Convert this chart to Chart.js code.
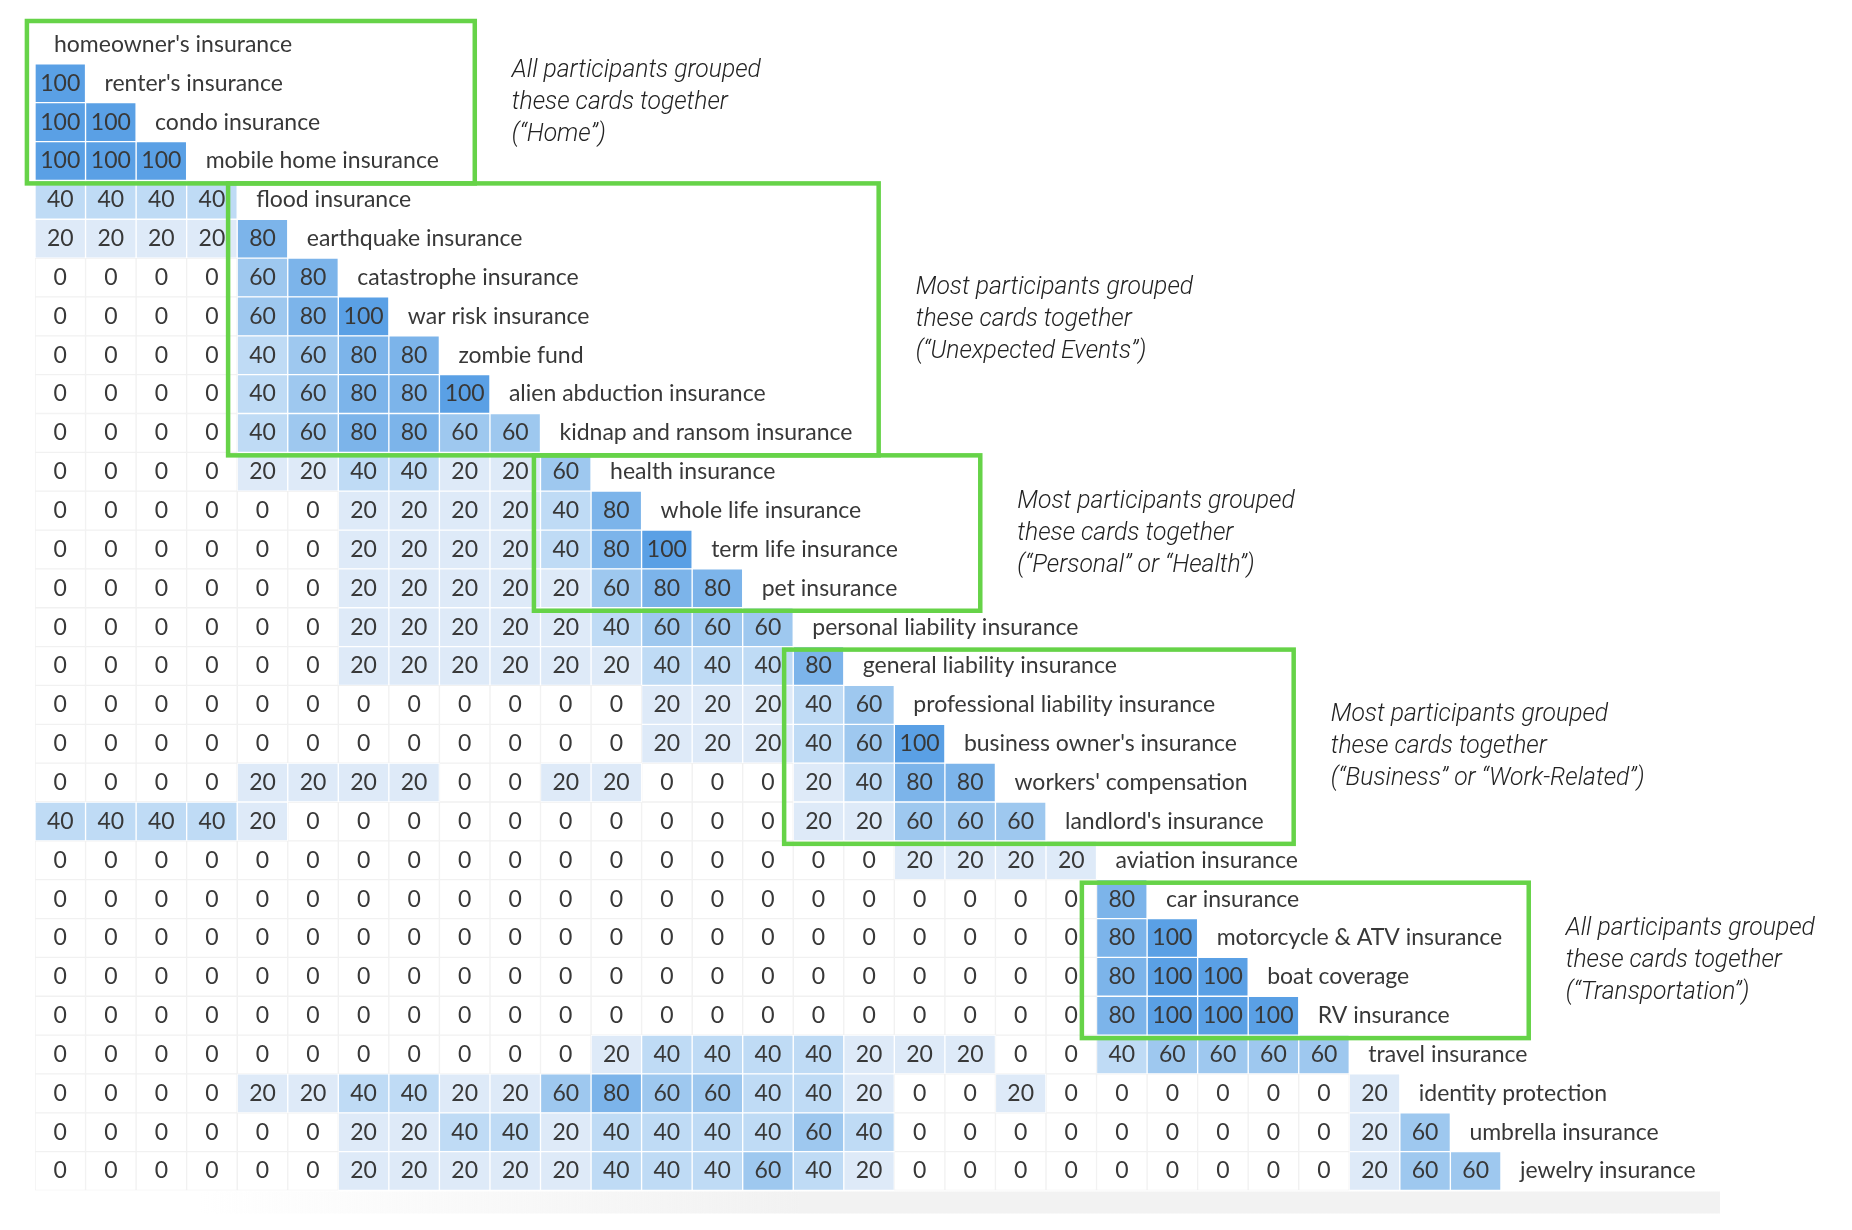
<!DOCTYPE html>
<html>
<head>
<meta charset="utf-8">
<script src="https://cdn.jsdelivr.net/npm/chart.js@4.4.0/dist/chart.umd.min.js"></script>
<style>
    html, body { margin: 0; padding: 0; background: #fff; }
    #wrap { width: 1852px; height: 1230px; }
</style>
</head>
<body>
<div id="wrap"><canvas id="matrixChart" width="1852" height="1230"></canvas></div>
<script>
// cards in the order of the similarity matrix
const cards = [
    "homeowner's insurance", "renter's insurance", "condo insurance", "mobile home insurance",
    "flood insurance", "earthquake insurance", "catastrophe insurance", "war risk insurance",
    "zombie fund", "alien abduction insurance", "kidnap and ransom insurance", "health insurance",
    "whole life insurance", "term life insurance", "pet insurance", "personal liability insurance",
    "general liability insurance", "professional liability insurance", "business owner's insurance",
    "workers' compensation", "landlord's insurance", "aviation insurance", "car insurance",
    "motorcycle & ATV insurance", "boat coverage", "RV insurance", "travel insurance",
    "identity protection", "umbrella insurance", "jewelry insurance"
];

// % of participants who put card i and card j in the same group (row i, columns 0..i-1)
const similarity = [
    [],
    [100],
    [100, 100],
    [100, 100, 100],
    [40, 40, 40, 40],
    [20, 20, 20, 20, 80],
    [0, 0, 0, 0, 60, 80],
    [0, 0, 0, 0, 60, 80, 100],
    [0, 0, 0, 0, 40, 60, 80, 80],
    [0, 0, 0, 0, 40, 60, 80, 80, 100],
    [0, 0, 0, 0, 40, 60, 80, 80, 60, 60],
    [0, 0, 0, 0, 20, 20, 40, 40, 20, 20, 60],
    [0, 0, 0, 0, 0, 0, 20, 20, 20, 20, 40, 80],
    [0, 0, 0, 0, 0, 0, 20, 20, 20, 20, 40, 80, 100],
    [0, 0, 0, 0, 0, 0, 20, 20, 20, 20, 20, 60, 80, 80],
    [0, 0, 0, 0, 0, 0, 20, 20, 20, 20, 20, 40, 60, 60, 60],
    [0, 0, 0, 0, 0, 0, 20, 20, 20, 20, 20, 20, 40, 40, 40, 80],
    [0, 0, 0, 0, 0, 0, 0, 0, 0, 0, 0, 0, 20, 20, 20, 40, 60],
    [0, 0, 0, 0, 0, 0, 0, 0, 0, 0, 0, 0, 20, 20, 20, 40, 60, 100],
    [0, 0, 0, 0, 20, 20, 20, 20, 0, 0, 20, 20, 0, 0, 0, 20, 40, 80, 80],
    [40, 40, 40, 40, 20, 0, 0, 0, 0, 0, 0, 0, 0, 0, 0, 20, 20, 60, 60, 60],
    [0, 0, 0, 0, 0, 0, 0, 0, 0, 0, 0, 0, 0, 0, 0, 0, 0, 20, 20, 20, 20],
    [0, 0, 0, 0, 0, 0, 0, 0, 0, 0, 0, 0, 0, 0, 0, 0, 0, 0, 0, 0, 0, 80],
    [0, 0, 0, 0, 0, 0, 0, 0, 0, 0, 0, 0, 0, 0, 0, 0, 0, 0, 0, 0, 0, 80, 100],
    [0, 0, 0, 0, 0, 0, 0, 0, 0, 0, 0, 0, 0, 0, 0, 0, 0, 0, 0, 0, 0, 80, 100, 100],
    [0, 0, 0, 0, 0, 0, 0, 0, 0, 0, 0, 0, 0, 0, 0, 0, 0, 0, 0, 0, 0, 80, 100, 100, 100],
    [0, 0, 0, 0, 0, 0, 0, 0, 0, 0, 0, 20, 40, 40, 40, 40, 20, 20, 20, 0, 0, 40, 60, 60, 60, 60],
    [0, 0, 0, 0, 20, 20, 40, 40, 20, 20, 60, 80, 60, 60, 40, 40, 20, 0, 0, 20, 0, 0, 0, 0, 0, 0, 20],
    [0, 0, 0, 0, 0, 0, 20, 20, 40, 40, 20, 40, 40, 40, 40, 60, 40, 0, 0, 0, 0, 0, 0, 0, 0, 0, 20, 60],
    [0, 0, 0, 0, 0, 0, 20, 20, 20, 20, 20, 40, 40, 40, 60, 40, 20, 0, 0, 0, 0, 0, 0, 0, 0, 0, 20, 60, 60]
];

// highlighted groups: first and last card row of each
const groupFirstRow = [0, 4, 11, 16, 22];
const groupLastRow = [3, 10, 14, 20, 25];
const groupNotes = [
    ["All participants grouped", "these cards together", "(\u201cHome\u201d)"],
    ["Most participants grouped", "these cards together", "(\u201cUnexpected Events\u201d)"],
    ["Most participants grouped", "these cards together", "(\u201cPersonal\u201d or \u201cHealth\u201d)"],
    ["Most participants grouped", "these cards together", "(\u201cBusiness\u201d or \u201cWork-Related\u201d)"],
    ["All participants grouped", "these cards together", "(\u201cTransportation\u201d)"]
];

// box extents in column units (layout only)
const boxCols = [[-0.16, 8.7], [3.82, 16.69], [9.87, 18.7], [14.82, 24.9], [20.71, 29.55]];

const shades = { 0: '#ffffff', 20: '#deeaf8', 40: '#bfdbf5', 60: '#9ec8ef', 80: '#7cb4ea', 100: '#5aa0e5' };
const textColor = '#383838';
const green = '#66d348';

// one dataset per matrix column, each cell is a floating bar [j, j+1]
const datasets = [];
for (let j = 0; j < cards.length - 1; j++) {
    datasets.push({
        data: cards.map((c, i) => j < similarity[i].length ? [j, j + 1] : null),
        backgroundColor: cards.map((c, i) => shades[similarity[i][j] || 0]),
        borderColor: cards.map((c, i) => similarity[i][j] ? '#ffffff' : '#f1f1f1'),
        borderWidth: 1,
        borderSkipped: false,
        grouped: false,
        categoryPercentage: 1,
        barPercentage: 1
    });
}

const matrixText = {
    id: 'matrixText',
    beforeDatasetsDraw(chart) {
        // faint shadow band under the table
        const { ctx, chartArea } = chart;
        const g = ctx.createLinearGradient(200, 0, 800, 0);
        g.addColorStop(0, 'rgba(242,242,242,0)');
        g.addColorStop(1, 'rgba(242,242,242,1)');
        ctx.save();
        ctx.fillStyle = g;
        ctx.fillRect(200, chartArea.bottom + 1, 1720 - 200, 22);
        ctx.restore();
    },
    afterDatasetsDraw(chart) {
        const ctx = chart.ctx;
        const x = chart.scales.x, y = chart.scales.y;
        const rowH = y.getPixelForValue(1) - y.getPixelForValue(0);
        ctx.save();
        ctx.fillStyle = textColor;
        ctx.textBaseline = 'middle';
        ctx.font = '23px Lato, "Open Sans", sans-serif';
        cards.forEach((name, i) => {
            const cy = y.getPixelForValue(i);
            ctx.textAlign = 'center';
            similarity[i].forEach((v, j) => {
                ctx.fillText(String(v), x.getPixelForValue(j + 0.5), cy);
            });
            ctx.textAlign = 'left';
            ctx.fillText(name, x.getPixelForValue(i) + 19, cy);
        });

        // group boxes and notes
        ctx.strokeStyle = green;
        ctx.lineWidth = 4.5;
        groupFirstRow.forEach((r0, k) => {
            const r1 = groupLastRow[k];
            const left = x.getPixelForValue(boxCols[k][0]);
            const right = x.getPixelForValue(boxCols[k][1]);
            const top = y.getPixelForValue(r0) - rowH / 2 + (k === 0 ? -4 : 3);
            const bottom = y.getPixelForValue(r1) + rowH / 2 + 3;
            ctx.strokeRect(left, top, right - left, bottom - top);

            ctx.font = 'italic 300 26px Roboto, sans-serif';
            ctx.fillStyle = '#222222';
            ctx.textAlign = 'left';
            const mid = (top + bottom) / 2;
            groupNotes[k].forEach((line, n) => {
                ctx.save();
                ctx.translate(right + 37, mid + (n - 1) * 32);
                ctx.scale(0.95, 1);
                ctx.fillText(line, 0, 0);
                ctx.restore();
            });
        });
        ctx.restore();
    }
};

new Chart(document.getElementById('matrixChart'), {
    type: 'bar',
    data: { labels: cards, datasets: datasets },
    options: {
        indexAxis: 'y',
        responsive: false,
        animation: false,
        devicePixelRatio: 1,
        layout: { padding: { left: 35, right: 22.5, top: 25, bottom: 39.5 } },
        scales: {
            x: { type: 'linear', min: 0, max: 35.5, display: false },
            y: { type: 'category', display: false }
        },
        plugins: {
            legend: { display: false },
            tooltip: { enabled: false }
        }
    },
    plugins: [matrixText]
});
</script>
</body>
</html>
